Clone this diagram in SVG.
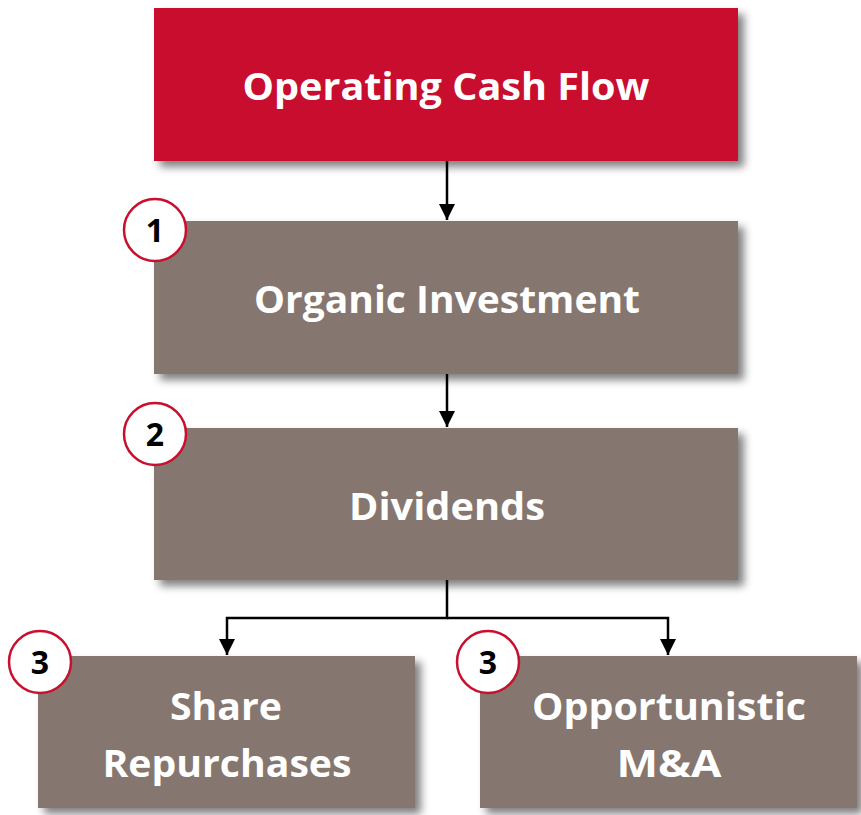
<svg xmlns="http://www.w3.org/2000/svg" width="861" height="815" viewBox="0 0 861 815">
  <style>
    .box-red { fill: #C8102E; }
    .box { fill: #85766F; }
    .label { font-family: "Open Sans", "Liberation Sans", sans-serif; font-weight: bold; font-size: 38px; fill: #FFFFFF; text-anchor: middle; }
    .badge circle { fill: #FFFFFF; stroke: #C8102E; stroke-width: 2.5; }
    .badge text { font-family: "Open Sans", "Liberation Sans", sans-serif; font-weight: bold; font-size: 32px; fill: #000000; text-anchor: middle; }
    .conn { fill: none; stroke: #000000; stroke-width: 2.5; }
  </style>
  <defs>
    <filter id="shadow" x="-10%" y="-10%" width="125%" height="130%">
      <feGaussianBlur in="SourceAlpha" stdDeviation="4"/>
      <feOffset dx="6" dy="6" result="b"/>
      <feComponentTransfer><feFuncA type="linear" slope="0.5"/></feComponentTransfer>
      <feMerge><feMergeNode/><feMergeNode in="SourceGraphic"/></feMerge>
    </filter>
    <marker id="arrow" viewBox="0 0 16 16" refX="16" refY="8" markerWidth="16" markerHeight="16" markerUnits="userSpaceOnUse" orient="auto">
      <path d="M0,0 L16,8 L0,16 Z" fill="#000000"/>
    </marker>
  </defs>

  <!-- connectors -->
  <g id="connectors">
    <path class="conn" d="M447,161 V220" marker-end="url(#arrow)"/>
    <path class="conn" d="M447,374 V427" marker-end="url(#arrow)"/>
    <path class="conn" d="M447,580 V618 H227 V655" marker-end="url(#arrow)"/>
    <path class="conn" d="M447,618 H668 V655" marker-end="url(#arrow)"/>
  </g>

  <g id="operating-cash-flow">
    <rect class="box-red" x="154" y="8" width="584" height="153" filter="url(#shadow)"/>
    <text class="label" x="446" y="100" textLength="407" lengthAdjust="spacingAndGlyphs">Operating Cash Flow</text>
  </g>

  <g id="organic-investment">
    <rect class="box" x="154" y="221" width="584" height="153" filter="url(#shadow)"/>
    <text class="label" x="447" y="313" textLength="386" lengthAdjust="spacingAndGlyphs">Organic Investment</text>
    <g class="badge"><circle cx="155" cy="230" r="31"/><text x="155" y="242">1</text></g>
  </g>

  <g id="dividends">
    <rect class="box" x="154" y="428" width="584" height="152" filter="url(#shadow)"/>
    <text class="label" x="447" y="520" textLength="196" lengthAdjust="spacingAndGlyphs">Dividends</text>
    <g class="badge"><circle cx="155" cy="434" r="31"/><text x="155" y="446">2</text></g>
  </g>

  <g id="share-repurchases">
    <rect class="box" x="38" y="656" width="377" height="152" filter="url(#shadow)"/>
    <text class="label" x="226" y="720" textLength="112" lengthAdjust="spacingAndGlyphs">Share</text>
    <text class="label" x="227" y="777" textLength="249" lengthAdjust="spacingAndGlyphs">Repurchases</text>
    <g class="badge"><circle cx="40" cy="662" r="31"/><text x="40" y="674">3</text></g>
  </g>

  <g id="opportunistic-ma">
    <rect class="box" x="480" y="656" width="377" height="152" filter="url(#shadow)"/>
    <text class="label" x="669" y="720" textLength="274" lengthAdjust="spacingAndGlyphs">Opportunistic</text>
    <text class="label" x="669" y="777" textLength="105" lengthAdjust="spacingAndGlyphs">M&amp;A</text>
    <g class="badge"><circle cx="488" cy="662" r="31"/><text x="488" y="674">3</text></g>
  </g>
</svg>
